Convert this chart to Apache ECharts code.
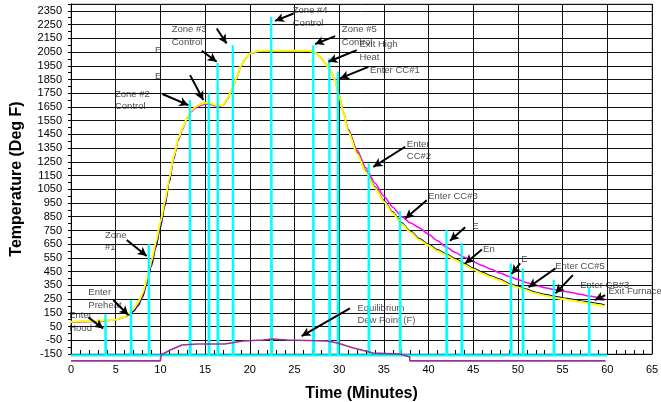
<!DOCTYPE html>
<html>
<head>
<meta charset="utf-8">
<script src="https://cdn.jsdelivr.net/npm/echarts@6/dist/echarts.min.js"></script>
<style>
  html, body { margin: 0; padding: 0; background: #fff; }
  #chart { width: 661px; height: 402px; }
</style>
</head>
<body>
<div id="chart"></div>
<script>
// furnace temperature profile (minutes, deg F)
const tempTime = [0, 2, 4, 5, 6, 6.5, 7, 7.5, 8, 8.5, 9, 9.5, 10, 10.5, 11, 11.5, 12, 12.5, 13, 13.5,
  14, 14.5, 15, 15.5, 16, 16.5, 17, 17.5, 18, 18.5, 19, 19.5, 20, 21, 22, 26, 26.75, 27.5, 28, 28.5,
  29, 29.5, 30, 30.5, 31, 32, 33, 34, 35, 36, 37, 38, 39, 40, 41, 42, 43, 44, 45, 46,
  47, 48, 49, 50, 51, 52, 53, 54, 55, 56, 57, 58, 59, 59.7];
const yellowTemp = [85, 88, 95, 100, 120, 145, 180, 225, 290, 400, 530, 665, 810, 960, 1130, 1290, 1420, 1500, 1575, 1625,
  1655, 1670, 1680, 1678, 1668, 1660, 1665, 1710, 1780, 1860, 1950, 2005, 2040, 2058, 2060, 2060, 2058, 2040, 2005, 1960,
  1915, 1850, 1730, 1600, 1475, 1310, 1175, 1060, 960, 875, 795, 735, 680, 640, 600, 570, 535, 500, 465, 437,
  410, 385, 355, 335, 312, 290, 275, 262, 250, 240, 228, 218, 207, 198];
const blueTemp = [85, 88, 95, 100, 118, 135, 160, 200, 262, 360, 490, 625, 770, 925, 1100, 1270, 1410, 1495, 1572, 1622,
  1652, 1668, 1678, 1676, 1666, 1658, 1663, 1705, 1775, 1855, 1945, 2002, 2038, 2057, 2060, 2060, 2058, 2040, 2005, 1960,
  1915, 1850, 1730, 1600, 1485, 1320, 1185, 1070, 970, 885, 805, 745, 690, 650, 610, 580, 545, 510, 475, 447,
  420, 395, 365, 345, 322, 300, 285, 272, 260, 250, 238, 228, 217, 208];
const magentaTemp = [82, 85, 92, 98, 118, 140, 170, 212, 275, 380, 510, 645, 790, 945, 1115, 1280, 1410, 1492, 1568, 1618,
  1645, 1660, 1670, 1670, 1660, 1655, 1662, 1708, 1778, 1858, 1948, 2003, 2038, 2056, 2058, 2058, 2056, 2038, 2005, 1962,
  1918, 1855, 1735, 1605, 1490, 1335, 1205, 1095, 1000, 920, 850, 805, 768, 722, 675, 628, 590, 555, 522, 495,
  467, 440, 415, 393, 370, 350, 333, 320, 308, 298, 285, 272, 262, 255];

// cyan event spikes
const spikeTime = [3.85, 6.7, 8.7, 13.3, 15.4, 16.4, 18.1, 22.4, 27.1, 28.9, 29.85, 33.3, 36.8, 42.0, 43.7, 49.2, 50.55, 54.0, 57.95];
const spikeTop = [139, 243, 649, 1700, 1749, 1971, 2100, 2306, 2100, 2004, 1906, 1239, 890, 753, 656, 510, 474, 389, 340];
const spikeBase = -160;
const spikeEnd = 60;

// equilibrium dew point
const dewTime = [0, 10, 10.07, 11.1, 12.4, 14.1, 17.2, 19.25, 21.5, 22.5, 24.2, 28.65, 29.8, 31.6, 33.8, 36.8, 37.9, 37.9, 59.8];
const dewTemp = [-200, -200, -157, -121, -84, -77, -77, -55, -48, -41, -48, -55, -70, -106, -143, -150, -172, -200, -200];

// axis
const yTicks = { min: -150, max: 2400, step: 100 };
const xTicks = { min: 0, max: 65, step: 5 };

// callout texts and arrows
const noteText = ['Enter\nHood', 'Enter\nPreheat', 'Zone\n#1', 'Zone #2\nControl', 'E', 'E', 'Zone #3\nControl',
  'Zone #4\nControl', 'Zone #5\nControl', 'Exit High\nHeat', 'Enter CC#1', 'Enter\nCC#2', 'Enter CC#3',
  'E', 'En', 'E', 'Enter CC#5', 'Enter CB#3', 'Exit Furnace', 'Equilibrium\nDew Point (F)'];
const noteAt = [[-0.2, 83], [1.94, 251], [3.8, 671], [4.92, 1698], [9.4, 2059], [9.4, 1875], [11.27, 2166],
  [24.81, 2307], [30.3, 2166], [32.27, 2058], [33.46, 1913], [37.57, 1334], [39.95, 996],
  [44.88, 777], [46.1, 615], [50.36, 540], [54.17, 486], [56.97, 347], [60.13, 304], [32.04, 138]];
const arrowFrom = [[1.94, 117], [4.73, 243], [6.23, 680], [10.22, 1744], [13.32, 1882], [14.63, 2059], [16.3, 2222],
  [24.9, 2331], [29.55, 2166], [31.97, 2064], [33.27, 1942], [37.38, 1360], [39.8, 970], [44.1, 773],
  [45.97, 612], [50.25, 510], [54.2, 474], [56.15, 425], [59.77, 279], [31.2, 183]];
const arrowTo = [[3.6, 36], [6.41, 134], [8.47, 564], [13.13, 1663], [14.8, 1700], [16.3, 1979], [17.4, 2113],
  [22.83, 2277], [27.3, 2108], [28.8, 1979], [30.1, 1858], [33.83, 1214], [37.4, 838], [42.4, 675],
  [44.1, 510], [49.3, 433], [51.2, 336], [54.2, 292], [58.6, 243], [25.8, -19]];

const pairs = (xs, ys) => xs.map((x, i) => [x, ys[i]]);

const spikeData = [[0, spikeBase]];
spikeTime.forEach((t, i) => {
  spikeData.push([t, spikeBase], [t, spikeTop[i]], [t + 0.08, spikeBase]);
});
spikeData.push([spikeEnd, spikeBase]);

const font = "'Liberation Sans', Arial, sans-serif";
const chart = echarts.init(document.getElementById('chart'));

const tempLine = (name, color, width, data) => ({
  name,
  type: 'line',
  data,
  showSymbol: false,
  smooth: 0.25,
  smoothMonotone: 'x',
  lineStyle: { color, width },
  silent: true,
});

chart.setOption({
  animation: false,
  backgroundColor: '#fff',
  textStyle: { fontFamily: font },
  grid: {
    left: 71, right: 9, top: 4, bottom: 48,
    containLabel: false,
    outerBoundsMode: 'none',
    show: true, borderColor: '#999', borderWidth: 1,
  },
  xAxis: {
    type: 'value',
    min: xTicks.min,
    max: xTicks.max,
    interval: xTicks.step,
    name: 'Time (Minutes)',
    nameLocation: 'middle',
    nameGap: 32,
    nameTextStyle: { fontSize: 16, fontWeight: 'bold', color: '#000', fontFamily: font },
    axisLine: { onZero: false, lineStyle: { color: '#000', width: 1 } },
    axisTick: { show: true, inside: true, length: 4, lineStyle: { color: '#000' } },
    minorTick: { show: true, splitNumber: 5, length: 4, lineStyle: { color: '#000' } },
    axisLabel: { fontSize: 11, color: '#000', margin: 10, fontFamily: font, formatter: v => String(v) },
    splitLine: { show: true, lineStyle: { color: '#111', width: 1 } },
  },
  yAxis: {
    type: 'value',
    min: yTicks.min,
    max: yTicks.max,
    interval: yTicks.step,
    name: 'Temperature (Deg F)',
    nameLocation: 'middle',
    nameGap: 46,
    nameTextStyle: { fontSize: 16, fontWeight: 'bold', color: '#000', fontFamily: font },
    axisLine: { show: true, onZero: false, lineStyle: { color: '#000', width: 1 } },
    axisTick: { show: true, inside: false, length: 3, lineStyle: { color: '#000' } },
    minorTick: { show: true, splitNumber: 2, length: 3, lineStyle: { color: '#000' } },
    axisLabel: { fontSize: 11, color: '#000', margin: 9, showMaxLabel: false, fontFamily: font, formatter: v => String(v) },
    splitLine: { show: true, lineStyle: { color: '#111', width: 1 } },
  },
  series: [
    tempLine('Magenta', '#ff00ff', 1.5, pairs(tempTime, magentaTemp)),
    tempLine('Blue', '#000080', 1.2, pairs(tempTime, blueTemp)),
    tempLine('Yellow', '#ffff00', 2, pairs(tempTime, yellowTemp)),
    {
      name: 'Events',
      type: 'line',
      data: spikeData,
      showSymbol: false,
      clip: false,
      silent: true,
      lineStyle: { color: '#00ffff', width: 2.2 },
    },
    {
      name: 'Equilibrium Dew Point (F)',
      type: 'line',
      data: pairs(dewTime, dewTemp),
      showSymbol: false,
      clip: false,
      silent: true,
      lineStyle: { color: '#993399', width: 1.6 },
    },
    {
      name: 'Notes',
      type: 'scatter',
      clip: false,
      silent: true,
      symbolSize: 0,
      data: noteText.map((text, i) => ({ name: text, value: noteAt[i] })),
      label: {
        show: true,
        position: 'right',
        distance: 0,
        formatter: '{b}',
        fontSize: 9.5,
        lineHeight: 12.5,
        color: '#222',
        fontFamily: font,
      },
      markLine: {
        silent: true,
        symbol: ['none', 'arrow'],
        symbolSize: [7, 9],
        label: { show: false },
        lineStyle: { color: '#000', width: 2, type: 'solid' },
        data: arrowFrom.map((from, i) => [{ coord: from }, { coord: arrowTo[i] }]),
      },
    },
  ],
});
</script>
</body>
</html>
